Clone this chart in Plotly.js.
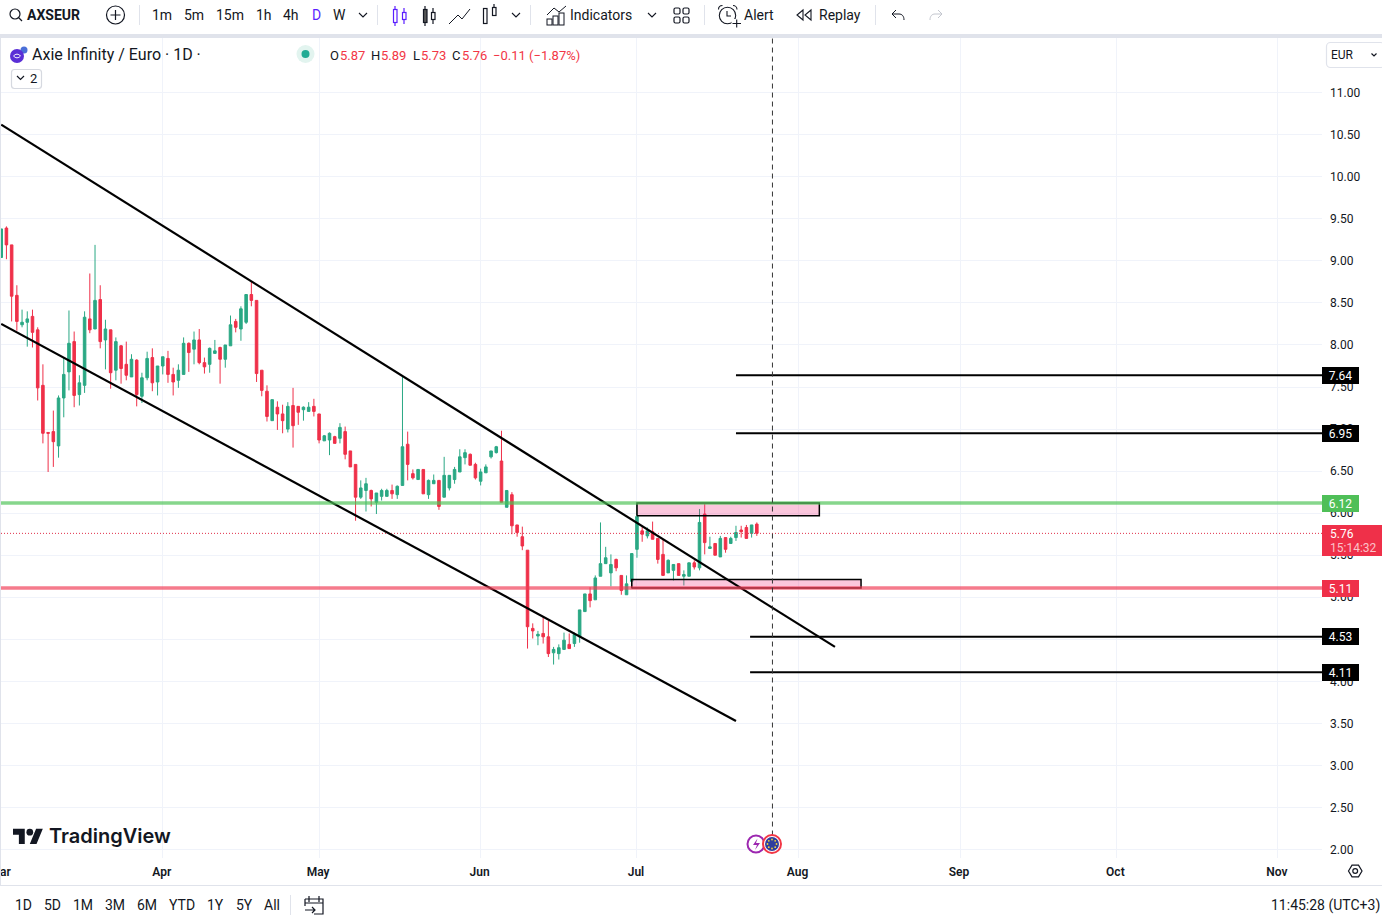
<!DOCTYPE html>
<html>
<head>
<meta charset="utf-8">
<title>AXSEUR</title>
<script src="https://cdn.plot.ly/plotly-3.0.1.min.js"></script>
<style>
html,body{margin:0;padding:0;background:#fff;width:1382px;height:923px;overflow:hidden}
#chart{position:absolute;left:0;top:0;width:1382px;height:923px}
#chrome{position:absolute;left:0;top:0;pointer-events:none}
</style>
</head>
<body>
<div id="chart"></div>
<svg id="chrome" width="1382" height="923" viewBox="0 0 1382 923" fill="none" stroke="#131722" stroke-width="1.2">
  <rect x="0" y="34" width="1382" height="4" fill="#e0e3eb" stroke="none"/>
  <rect x="0" y="38" width="1" height="847" fill="#e0e3eb" stroke="none"/>
  <rect x="0" y="885" width="1382" height="1" fill="#e0e3eb" stroke="none"/>
  <!-- separators -->
  <g stroke="#e0e3eb" stroke-width="1">
    <path d="M139.5 5V25M377.5 5V25M530.5 5V25M704.5 5V25M875.5 5V25M290.5 895V915"/>
  </g>
  <!-- search -->
  <circle cx="15" cy="14" r="5"/><path d="M18.5 17.5L22 21"/>
  <!-- add symbol -->
  <circle cx="115.5" cy="15" r="9"/><path d="M115.5 10V20M110.5 15H120.5"/>
  <!-- chevrons -->
  <g stroke-width="1.1"><path d="M359 13L363 17L367 13M512 13L516 17L520 13M648 13L652 17L656 13"/></g>
  <!-- candle icon purple -->
  <g stroke="#5b1fff" stroke-width="1.2"><rect x="393.5" y="9.5" width="3.5" height="13"/><path d="M395 6V9.5M395 22.5V26"/><rect x="402.5" y="12.5" width="3.5" height="7"/><path d="M404 8V12.5M404 19.5V24"/></g>
  <!-- hollow / filled candles -->
  <g stroke-width="1.2"><rect x="423.5" y="9.5" width="3.5" height="13" fill="#555"/><path d="M425 6V9.5M425 22.5V26"/><rect x="431.5" y="12.5" width="3.5" height="7"/><path d="M433 8V12.5M433 19.5V24"/></g>
  <!-- line icon -->
  <path stroke-width="1" d="M449 24L458 15L462 19L470 9"/>
  <!-- hi-lo icon -->
  <g stroke-width="1.2"><rect x="483.5" y="8.5" width="3.5" height="15"/><rect x="492.5" y="7.5" width="3.5" height="8"/><path d="M494 4V7.5"/></g>
  <!-- indicators -->
  <g stroke-width="1"><path d="M547 15L554 8L559 12L566 6"/><rect x="547" y="19" width="5" height="6"/><rect x="553" y="16" width="5" height="9"/><rect x="559" y="13" width="5" height="12"/></g>
  <!-- layout grid -->
  <g stroke-width="1.2"><rect x="674" y="8" width="6" height="6" rx="1.5"/><rect x="683" y="8" width="6" height="6" rx="1.5"/><rect x="674" y="17" width="6" height="6" rx="1.5"/><rect x="683" y="17" width="6" height="6" rx="1.5"/></g>
  <!-- alert -->
  <g stroke-width="1.1"><circle cx="727.5" cy="15.5" r="8.2"/><path d="M727 11V16H731M718.5 9.5C718.5 7 720 5.5 722.5 5.5M737 9.5C737 7 735 5.5 733 5.5"/><path d="M731.5 19h10v10h-10z" stroke="none" fill="#fff"/><path d="M732.5 23.5H741M736.7 19.5V27.5"/></g>
  <!-- replay -->
  <path stroke-width="1.1" d="M803 10L797 15L803 20ZM811 10L805 15L811 20Z"/>
  <!-- undo / redo -->
  <path stroke-width="1" d="M892 14H899C902 14 904 16 904 20M892 14L896 10M892 14L896 18"/>
  <path stroke-width="1" stroke="#c3c6ce" d="M942 14H935C932 14 930 16 930 20M942 14L938 10M942 14L938 18"/>
  <!-- status dot -->
  <circle cx="305.5" cy="54" r="9" fill="#e2f4ef" stroke="none"/><circle cx="305.5" cy="54" r="4" fill="#22ab94" stroke="none"/>
  <!-- symbol logo -->
  <circle cx="24" cy="50" r="3.5" fill="#4a6fd8" stroke="none"/>
  <circle cx="17" cy="56" r="7" fill="#5a2fd6" stroke="none"/>
  <path d="M13.5 56c2-2.4 5-2.4 7 0c-2 2.4-5 2.4-7 0" stroke="#fff" stroke-width="1"/>
  <!-- legend toggle -->
  <rect x="11.5" y="69.5" width="30" height="19" rx="3" stroke="#d6d9e0"/><path d="M17 76L20.5 79.5L24 76" stroke-width="1.2"/>
  <!-- currency box -->
  <rect x="1326.5" y="42.5" width="58" height="25" rx="4" stroke="#e0e3eb"/>
  <path d="M1371.5 53.5L1374 56L1376.5 53.5" stroke-width="1.2"/>
  <!-- settings -->
  <path d="M1348.5 871L1352 865.2H1358.5L1362 871L1358.5 876.8H1352Z"/><circle cx="1355.2" cy="871" r="2.4"/>
  <!-- calendar -->
  <path d="M305 899H323V914H314M305 899V906M309 896V902M319 896V902M305 910H315M312 907L315 910L312 913M305 903H323"/>
  <!-- TradingView mark -->
  <g transform="translate(13 828) scale(.84)" stroke="none" fill="#131722">
    <path d="M14 19H7V8H0V1h14v18zM28 19h-8l7.5-18h8L28 19z"/><circle cx="20" cy="5" r="4"/>
  </g>
  <!-- event markers -->
  <circle cx="756" cy="844" r="8.5" fill="#fff" stroke="#9c27b0" stroke-width="2"/>
  <path d="M757.5 838.5L753 845H757L755 850L760 843H756Z" fill="#9c27b0" stroke="none"/>
  <circle cx="772" cy="844" r="9" fill="#fff" stroke="#f23645" stroke-width="2"/>
  <circle cx="772" cy="844" r="7" fill="#2f3f9e" stroke="none"/>
  <g fill="#f5d33a" stroke="none"><circle cx="772" cy="839.5" r=".9"/><circle cx="776.5" cy="844" r=".9"/><circle cx="772" cy="848.5" r=".9"/><circle cx="767.5" cy="844" r=".9"/><circle cx="775.2" cy="840.8" r=".9"/><circle cx="775.2" cy="847.2" r=".9"/><circle cx="768.8" cy="840.8" r=".9"/><circle cx="768.8" cy="847.2" r=".9"/></g>
</svg>
<script>
// ---- chart values ----
const firstDay = '2024-03-01';
const open = [9.04,9.39,9.19,8.59,8.24,8.27,8.34,8.18,7.52,6.96,
6.97,6.80,7.37,7.68,8.04,7.41,7.52,8.31,8.19,8.54,
8.06,8.18,7.70,7.99,7.77,7.62,7.82,7.39,7.61,7.85,
7.56,7.75,7.84,7.65,7.58,7.65,8.02,7.95,8.06,7.79,
7.77,7.90,7.97,7.83,7.99,8.28,8.19,8.27,8.60,8.53,
7.70,7.45,7.10,7.26,7.18,7.00,7.28,7.27,7.23,7.21,
7.27,7.18,6.86,6.87,6.91,6.89,6.97,6.74,6.58,6.19,
6.27,6.27,6.13,6.20,6.20,6.27,6.22,6.33,6.82,6.47,
6.40,6.52,6.22,6.35,6.39,6.19,6.30,6.40,6.49,6.66,
6.70,6.58,6.38,6.48,6.67,6.72,6.62,6.07,6.22,5.86,
5.72,5.56,4.63,4.54,4.57,4.53,4.34,4.33,4.38,4.44,
4.45,4.53,4.83,5.04,4.97,5.25,5.40,5.29,5.45,5.26,
5.03,5.19,5.57,5.79,5.73,5.78,5.70,5.51,5.29,5.32,
5.40,5.25,5.25,5.41,5.35,5.99,5.58,5.64,5.48,5.71,
5.64,5.71,5.80,5.83,5.76,5.87];
const high = [9.38,9.41,9.19,8.71,8.42,8.40,8.42,8.21,7.77,6.96,
7.22,7.40,7.85,8.41,8.16,7.64,8.40,8.85,9.19,8.71,
8.30,8.18,8.09,8.00,8.04,7.89,7.83,7.67,7.92,7.96,
7.75,7.86,7.93,7.73,7.77,8.09,8.03,8.16,8.19,7.85,
7.97,8.06,7.98,8.00,8.35,8.31,8.46,8.60,8.75,8.53,
7.70,7.52,7.35,7.33,7.29,7.32,7.49,7.27,7.27,7.32,
7.36,7.18,6.93,6.96,6.92,7.07,7.03,6.74,6.58,6.39,
6.42,6.28,6.24,6.29,6.29,6.34,6.33,7.64,6.97,6.52,
6.52,6.52,6.40,6.46,6.39,6.67,6.45,6.55,6.76,6.76,
6.71,6.60,6.53,6.58,6.74,6.80,6.98,6.27,6.25,5.86,
5.84,5.56,4.69,4.60,4.77,4.72,4.41,4.44,4.58,4.57,
4.58,4.85,5.04,5.12,5.26,5.89,5.60,5.51,5.46,5.26,
5.26,5.52,6.11,5.85,5.83,5.90,5.70,5.69,5.45,5.39,
5.40,5.32,5.41,5.44,6.05,6.11,5.72,5.64,5.73,5.71,
5.72,5.85,5.85,5.86,5.86,5.89];
const low = [9.04,9.02,8.28,8.17,8.21,7.98,7.97,7.34,6.83,6.49,
6.55,6.66,7.14,7.46,7.26,7.28,7.43,8.14,8.19,7.96,
7.71,7.48,7.58,7.54,7.58,7.62,7.27,7.31,7.58,7.45,
7.40,7.65,7.55,7.40,7.49,7.65,7.68,7.77,7.77,7.66,
7.67,7.90,7.54,7.73,7.99,8.15,8.05,8.25,8.46,7.56,
7.39,7.09,7.10,6.99,6.95,6.96,6.78,7.05,7.10,7.21,
7.15,6.83,6.86,6.69,6.83,6.83,6.64,6.55,5.91,6.17,
6.02,6.08,5.99,6.15,6.20,6.17,6.17,6.33,6.39,6.40,
6.40,6.23,6.17,6.35,6.04,6.19,6.27,6.35,6.49,6.58,
6.57,6.40,6.33,6.48,6.65,6.71,6.13,6.07,5.75,5.72,
5.56,4.39,4.51,4.43,4.45,4.29,4.20,4.26,4.38,4.39,
4.41,4.46,4.83,4.88,4.97,5.25,5.40,5.13,5.31,5.03,
5.03,5.10,5.47,5.66,5.70,5.69,5.40,5.26,5.29,5.20,
5.26,5.14,5.25,5.33,5.32,5.51,5.58,5.50,5.48,5.53,
5.64,5.67,5.71,5.70,5.71,5.73];
const close = [9.38,9.19,8.58,8.28,8.27,8.31,8.15,7.49,6.95,6.95,
6.85,7.37,7.65,8.02,7.40,7.55,8.33,8.18,8.53,8.04,
8.19,7.67,8.04,7.72,7.64,7.83,7.41,7.61,7.84,7.55,
7.75,7.86,7.65,7.56,7.70,8.02,7.91,8.06,7.79,7.74,
7.96,7.93,7.83,8.00,8.24,8.21,8.43,8.60,8.53,7.66,
7.46,7.15,7.35,7.18,7.10,7.27,7.04,7.20,7.26,7.26,
7.21,6.87,6.92,6.95,6.83,7.02,6.70,6.55,6.19,6.30,
6.35,6.17,6.24,6.27,6.27,6.23,6.32,6.79,6.58,6.42,
6.52,6.23,6.39,6.39,6.08,6.45,6.45,6.52,6.67,6.72,
6.57,6.42,6.49,6.55,6.74,6.79,6.13,6.27,5.85,5.77,
5.61,4.65,4.60,4.56,4.53,4.33,4.38,4.40,4.49,4.39,
4.56,4.85,5.04,4.96,5.23,5.40,5.47,5.39,5.35,5.08,
5.16,5.52,5.96,5.75,5.79,5.69,5.45,5.26,5.44,5.39,
5.26,5.27,5.41,5.36,5.89,5.65,5.60,5.50,5.70,5.57,
5.70,5.77,5.78,5.70,5.86,5.76];

const monthTicks = ['2024-03-01','2024-04-01','2024-05-01','2024-06-01','2024-07-01','2024-08-01','2024-09-01','2024-10-01','2024-11-01'];
const monthLabels = ['Mar','Apr','May','Jun','Jul','Aug','Sep','Oct','Nov'];
const priceTicks = [2,2.5,3,3.5,4,4.5,5,5.5,6,6.5,7,7.5,8,8.5,9,9.5,10,10.5,11];

const upperChannelX = ['2024-03-01','2024-08-08'];
const upperChannelY = [10.62,4.41];
const lowerChannelX = ['2024-03-01','2024-07-20'];
const lowerChannelY = [8.25,3.53];

const targetLevels = [7.64,6.95];
const stopLevels = [4.53,4.11];
const resistance = 6.12;
const support = 5.11;
const lastPrice = 5.76;

const upperBoxX = ['2024-07-01','2024-08-05'];
const upperBoxY = [5.97,6.12];
const lowerBoxX = ['2024-06-30','2024-08-13'];
const lowerBoxY = [5.11,5.21];

const markerDay = '2024-07-27';
const viewStart = '2024-02-29 23:00';
const viewEnd = '2024-11-09 11:00';
const viewLow = 1.9, viewHigh = 11.65;

const quoteRow = [['O',330],['5.87',340,1],['H',371],['5.89',381,1],['L',413],['5.73',421,1],['C',452],['5.76',462,1],['−0.11',493,1],['(−1.87%)',529,1]];
const intervalsTop = [['1m',162],['5m',194],['15m',230],['1h',264],['4h',291],['D',316],['W',339]];
const rangesBottom = [['1D',23],['5D',52],['1M',83],['3M',115],['6M',147],['YTD',182],['1Y',215],['5Y',244],['All',272]];

// ---- drawing ----
const GREEN='#2aa884', RED='#ef3049', INK='#131722';
const L=1,R=1322,T=38,B=858;
const px=x=>(x-L)/(R-L), py=y=>(B-y)/(B-T);
const dates=open.map((_,i)=>{const d=new Date(firstDay+'T00:00:00Z');d.setUTCDate(d.getUTCDate()+i);return d.toISOString().slice(0,10);});
const closedBox=(xs,ys)=>({x:[xs[0],xs[1],xs[1],xs[0],xs[0]],y:[ys[0],ys[0],ys[1],ys[1],ys[0]]});
const lineTrace=(x,y,color,width,dash)=>({type:'scatter',mode:'lines',x,y,hoverinfo:'skip',showlegend:false,line:{color,width,dash:dash||'solid',simplify:false}});
const boxTrace=(xs,ys)=>Object.assign(closedBox(xs,ys),{type:'scatter',mode:'lines',fill:'toself',fillcolor:'rgba(240,50,130,0.28)',hoverinfo:'skip',showlegend:false,line:{color:'#000',width:1.5}});

const traces=[
 boxTrace(upperBoxX,upperBoxY),
 boxTrace(lowerBoxX,lowerBoxY),
 {type:'candlestick',x:dates,open,high,low,close,whiskerwidth:0,showlegend:false,hoverinfo:'skip',
  increasing:{line:{color:GREEN,width:1},fillcolor:GREEN},decreasing:{line:{color:RED,width:1},fillcolor:RED}},
 lineTrace([viewStart,viewEnd],[lastPrice,lastPrice],'#e0304a',1,'1px,2px'),
 lineTrace(upperChannelX,upperChannelY,'#000',2.2),
 lineTrace(lowerChannelX,lowerChannelY,'#000',2.2),
 lineTrace(['2024-07-20',viewEnd],[targetLevels[0],targetLevels[0]],'#000',2),
 lineTrace(['2024-07-20',viewEnd],[targetLevels[1],targetLevels[1]],'#000',2),
 lineTrace(['2024-07-22 17:00',viewEnd],[stopLevels[0],stopLevels[0]],'#000',2),
 lineTrace(['2024-07-22 17:00',viewEnd],[stopLevels[1],stopLevels[1]],'#000',2),
 lineTrace([viewStart,viewEnd],[resistance,resistance],'rgba(76,195,85,0.68)',3.5),
 lineTrace([viewStart,viewEnd],[support,support],'rgba(240,60,85,0.68)',3.5),
 lineTrace([markerDay,markerDay],[2.06,viewHigh],'#333',1,'5px,4px')
];

const txt=(text,x,y,o={})=>{const a=o.a||'center';const sx=a==='left'?x-1:a==='right'?x+1:x;
  return {xref:'paper',yref:'paper',x:px(sx),y:py(y),text,showarrow:false,
  xanchor:a,yanchor:'middle',font:{family:o.f||'Roboto',size:o.s||14,color:o.c||INK,weight:o.w||400},borderpad:0};};
const tag=(v,bg)=>({xref:'paper',yref:'y',x:1,y:v,text:v.toFixed(2),showarrow:false,xanchor:'left',yanchor:'middle',
  width:37,height:17,bgcolor:bg,borderpad:0,borderwidth:0,font:{family:'Roboto',size:12,color:'#fff'}});

const annotations=[
 txt('AXSEUR',27,15,{a:'left',w:700}),
 ...intervalsTop.map(([t,x])=>txt(t,x,15,{c:t==='D'?'#5b1fff':INK})),
 txt('Indicators',570,15,{a:'left'}),
 txt('Alert',744,15,{a:'left'}),
 txt('Replay',819,15,{a:'left'}),
 txt('Axie Infinity / Euro · 1D ·',32,54,{a:'left',s:16}),
 txt('2',33,78.5,{s:13}),
 ...quoteRow.map(([t,x,red])=>txt(t,x,55.5,{a:'left',s:13,c:red?'#f23645':INK})),
 txt('EUR',1331,55,{a:'left',s:12}),
 txt('TradingView',49,836,{a:'left',s:20,f:'Inter',w:600}),
 ...rangesBottom.map(([t,x])=>txt(t,x,905)),
 txt('11:45:28 (UTC+3)',1380,905,{a:'right'}),
 ...targetLevels.map(v=>tag(v,'#000')),
 tag(resistance,'#4fbf58'),
 tag(support,RED),
 ...stopLevels.map(v=>tag(v,'#000')),
 txt(lastPrice.toFixed(2),1330,533.5,{a:'left',s:12,c:'#fff'}),
 txt('15:14:32',1330,547.5,{a:'left',s:12,c:'#fbc2c8'})
];

const layout={
 width:1382,height:923,paper_bgcolor:'#fff',plot_bgcolor:'#fff',showlegend:false,dragmode:false,hovermode:false,
 margin:{l:L,r:1382-R,t:T,b:923-B,pad:0},
 xaxis:{type:'date',range:[viewStart,viewEnd],tickmode:'array',tickvals:monthTicks,ticktext:monthLabels,
   ticklabeloverflow:'allow',ticks:'',ticklabelstandoff:5,ticklabelshift:-1,showgrid:true,gridcolor:'#f0f3fa',gridwidth:1,zeroline:false,showline:false,
   tickfont:{family:'Roboto',size:12,color:INK,weight:600},rangeslider:{visible:false},fixedrange:true},
 yaxis:{side:'right',range:[viewLow,viewHigh],tickmode:'array',tickvals:priceTicks,tickformat:'.2f',ticks:'',
   ticklabelstandoff:7,showgrid:true,gridcolor:'#f0f3fa',gridwidth:1,zeroline:false,showline:false,
   tickfont:{family:'Roboto',size:12,color:INK},fixedrange:true},
 shapes:[{type:'rect',xref:'paper',yref:'paper',layer:'above',x0:px(1322),x1:px(1382),y0:py(525),y1:py(556),fillcolor:RED,line:{width:0}}],
 annotations
};
Plotly.newPlot('chart',traces,layout,{displayModeBar:false,staticPlot:true,responsive:false});
</script>
</body>
</html>
